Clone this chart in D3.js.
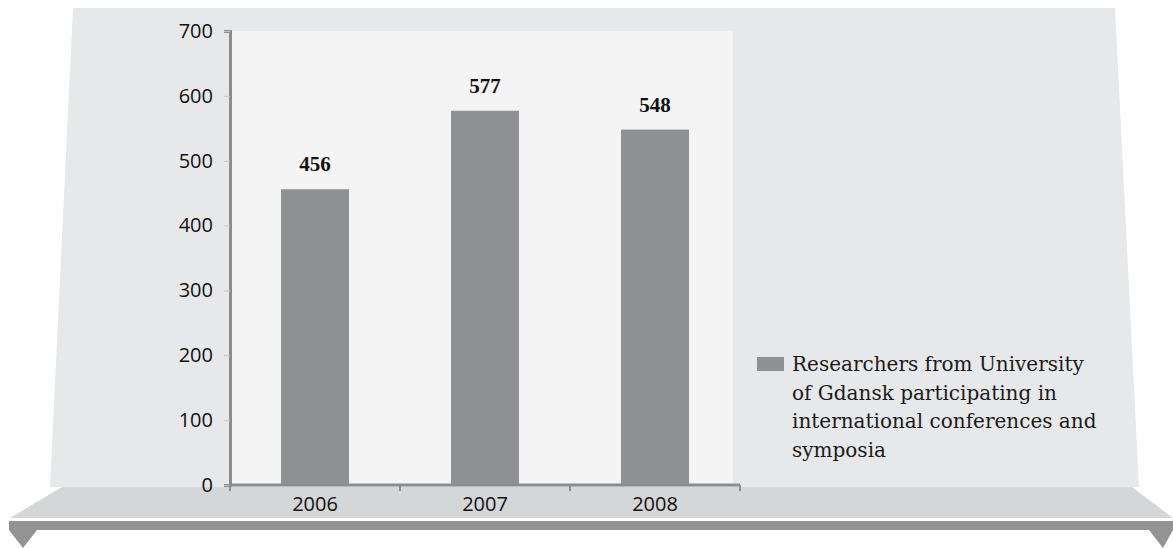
<!DOCTYPE html>
<html lang="en">
<head>
    <meta charset="UTF-8">
    <title>Researchers participating in international conferences</title>
    <script src="https://d3js.org/d3.v7.min.js"></script>
    <style>
        body { margin: 0; background: #fff; }
        .tick text { fill: #111; }
    </style>
</head>
<body>
    <svg width="1173" height="548"></svg>

    <script>
        // Data
        const years = ["2006", "2007", "2008"];
        const values = [456, 577, 548];
        const yTicks = [0, 100, 200, 300, 400, 500, 600, 700];
        const legendLines = ["Researchers from University", "of Gdansk participating in", "international conferences and", "symposia"];

        const svg = d3.select("svg");

        // Backdrop: wall, floor, front strip
        svg.append("path")
            .attr("d", "M73,8 L1115,8 L1139,487 L50,487 Z")
            .attr("fill", "#e7e8e9");
        svg.append("path")
            .attr("d", "M62,487 L1132,487 L1173,518 L10,518 Z")
            .attr("fill", "#d5d6d7");
        svg.append("path")
            .attr("d", "M9,521 L1173,521 L1173,530 L1163,548 L1149,530 L37,530 L23,548 L9,530 Z")
            .attr("fill", "#939393");

        // Scales
        const x = d3.scaleBand()
            .domain(years)
            .range([230, 740])
            .paddingInner(0.6)
            .paddingOuter(0.3);

        const y = d3.scaleLinear()
            .domain([0, 700])
            .range([485, 31]);

        // Plot area
        svg.append("rect")
            .attr("x", 230)
            .attr("y", y(700))
            .attr("width", 733 - 230)
            .attr("height", y(0) - y(700))
            .attr("fill", "#f4f4f4");

        // Bars
        svg.selectAll(".bar")
            .data(values)
            .join("rect")
            .attr("class", "bar")
            .attr("x", (d, i) => x(years[i]))
            .attr("y", d => y(d))
            .attr("width", x.bandwidth())
            .attr("height", d => y(0) - y(d))
            .attr("fill", "#8f9091");

        // Value labels
        svg.selectAll(".val")
            .data(values)
            .join("text")
            .attr("class", "val")
            .attr("x", (d, i) => x(years[i]) + x.bandwidth() / 2)
            .attr("y", d => y(d) - 18)
            .attr("text-anchor", "middle")
            .attr("font-family", "Liberation Serif")
            .attr("font-weight", "bold")
            .attr("font-size", 21)
            .attr("fill", "#111")
            .text(d => d);

        // Y axis
        const yAxis = svg.append("g")
            .attr("transform", "translate(230,0)")
            .call(d3.axisLeft(y).tickValues(yTicks).tickSize(6).tickPadding(11));
        yAxis.select(".domain").attr("stroke", "#8c8c8c").attr("stroke-width", 3);
        yAxis.selectAll(".tick line").attr("stroke", "#c4c4c4");
        yAxis.selectAll(".tick text")
            .attr("font-family", "Open Sans")
            .attr("font-size", 20);

        // X axis
        const xAxis = svg.append("g")
            .attr("transform", `translate(0,${y(0)})`)
            .call(d3.axisBottom(x).tickSize(0).tickPadding(12));
        xAxis.select(".domain").remove();
        xAxis.selectAll(".tick text")
            .attr("font-family", "Open Sans")
            .attr("font-size", 20);
        xAxis.append("line")
            .attr("x1", x.range()[0])
            .attr("x2", x.range()[1])
            .attr("stroke", "#8c8c8c")
            .attr("stroke-width", 3);
        xAxis.selectAll(".sep")
            .data(d3.range(years.length + 1))
            .join("line")
            .attr("class", "sep")
            .attr("x1", i => x.range()[0] + i * x.step())
            .attr("x2", i => x.range()[0] + i * x.step())
            .attr("y1", 0)
            .attr("y2", 6)
            .attr("stroke", "#8c8c8c")
            .attr("stroke-width", 2);

        // Legend
        const legend = svg.append("g").attr("transform", "translate(757,357)");
        legend.append("rect")
            .attr("width", 27)
            .attr("height", 14)
            .attr("fill", "#8f9091");
        legend.append("text")
            .attr("font-family", "DejaVu Serif")
            .attr("font-size", 20)
            .attr("fill", "#1a1a1a")
            .selectAll("tspan")
            .data(legendLines)
            .join("tspan")
            .attr("x", 35)
            .attr("y", (d, i) => 14 + i * 28.7)
            .text(d => d);
    </script>
</body>
</html>
